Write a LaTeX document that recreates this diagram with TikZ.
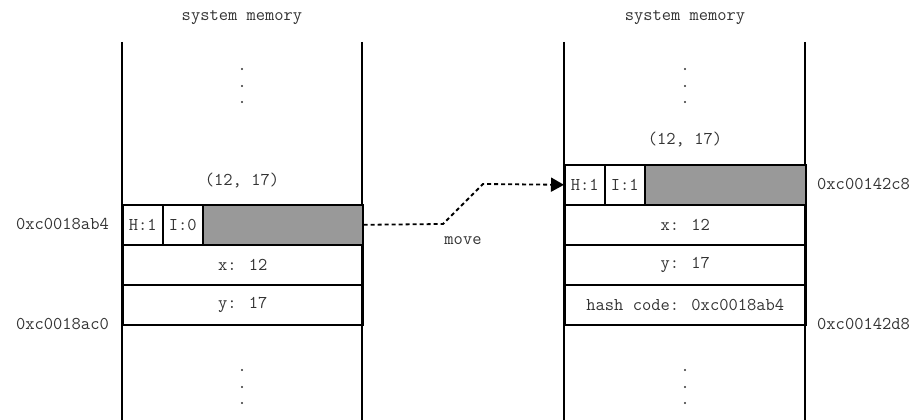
\documentclass[tikz,border=0pt]{standalone}
\usepackage{fontspec}
\usetikzlibrary{arrows.meta}
\definecolor{txt}{HTML}{333333}
\definecolor{shade}{HTML}{999999}
\begin{document}
\begin{tikzpicture}[x=1pt,y=-1pt,
  lbl/.style={font=\ttfamily\fontsize{18}{20}\selectfont, text=txt, inner sep=0pt},
  cell/.style={draw, line width=1.6pt, minimum height=40pt, anchor=north west, inner sep=0pt, font=\ttfamily\fontsize{18}{20}\selectfont, text=txt},
  colline/.style={line width=2pt},
  dotmark/.style={circle, fill=txt, minimum size=2.2pt, inner sep=0pt},
  movearrow/.style={line width=1.8pt, dash pattern=on 4pt off 3pt, -{Triangle[length=13pt,width=14pt]}}]
\useasboundingbox (0,0) rectangle (916,420);
% titles
\node[lbl] (tL) at (242,18) {system memory};
\node[lbl] (tR) at (685,18) {system memory};
% column sides
\coordinate (lt1) at (122,42); \coordinate (lb1) at (122,420);
\coordinate (lt2) at (362,42); \coordinate (lb2) at (362,420);
\coordinate (rt1) at (564,42); \coordinate (rb1) at (564,420);
\coordinate (rt2) at (805,42); \coordinate (rb2) at (805,420);
\draw[colline] (lt1) -- (lb1);
\draw[colline] (lt2) -- (lb2);
\draw[colline] (rt1) -- (rb1);
\draw[colline] (rt2) -- (rb2);
% left object
\node[lbl] (pL) at (242,181) {(12, 17)};
\node[cell, minimum width=40pt] (hL) at (122,204) {H:1};
\node[cell, minimum width=40pt] (iL) at (162,204) {I:0};
\node[cell, minimum width=160pt, fill=shade] (gL) at (202,204) {};
\node[cell, minimum width=240pt] (xL) at (122,244) {x: 12};
\node[cell, minimum width=240pt] (yL) at (122,284) {y: 17};
\node[lbl, anchor=east] (aL1) at (109,224) {0xc0018ab4};
\node[lbl, anchor=east] (aL2) at (109,324) {0xc0018ac0};
% right object
\node[lbl] (pR) at (685,140) {(12, 17)};
\node[cell, minimum width=40pt] (hR) at (564,164) {H:1};
\node[cell, minimum width=40pt] (iR) at (604,164) {I:1};
\node[cell, minimum width=161pt, fill=shade] (gR) at (644,164) {};
\node[cell, minimum width=241pt] (xR) at (564,204) {x: 12};
\node[cell, minimum width=241pt] (yR) at (564,244) {y: 17};
\node[cell, minimum width=241pt] (hashR) at (564,284) {hash code: 0xc0018ab4};
\node[lbl, anchor=west] (aR1) at (817,184) {0xc00142c8};
\node[lbl, anchor=west] (aR2) at (817,324) {0xc00142d8};
% dots
\foreach \y [count=\i] in {69,86,102} {
  \node[dotmark] (dLt\i) at (242,\y) {};
  \node[dotmark] (dRt\i) at (685,\y) {};
}
\foreach \y [count=\i] in {370,387,403} {
  \node[dotmark] (dLb\i) at (242,\y) {};
  \node[dotmark] (dRb\i) at (685,\y) {};
}
% move arrow
\coordinate (m1) at (443,224);
\coordinate (m2) at (483,184);
\draw[movearrow] (gL.east) -- (m1) -- (m2) -- (hR.west);
\node[lbl] (mv) at (463,241) {move};
\end{tikzpicture}
\end{document}
